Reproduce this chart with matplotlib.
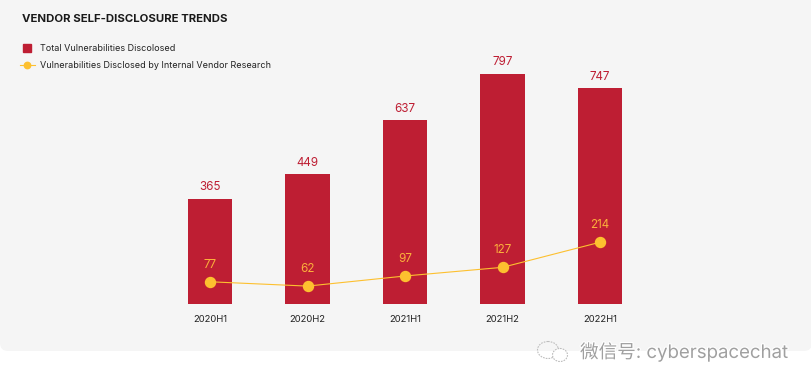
import matplotlib
matplotlib.use("Agg")
import matplotlib.pyplot as plt
import matplotlib.patheffects as pe
from matplotlib.patches import FancyBboxPatch, Ellipse
from matplotlib.lines import Line2D

periods = ["2020H1", "2020H2", "2021H1", "2021H2", "2022H1"]
total = [365, 449, 637, 797, 747]
internal = [77, 62, 97, 127, 214]

W, H = 812, 365
RED = "#BE1E33"
YEL = "#FDC02F"
plt.rcParams["font.family"] = ["Inter", "Noto Sans CJK SC", "DejaVu Sans"]

fig = plt.figure(figsize=(W / 100, H / 100), dpi=100, facecolor="white")

bg = fig.add_axes([0, 0, 1, 1], zorder=0)
bg.set_xlim(0, W); bg.set_ylim(H, 0); bg.axis("off")
bg.add_patch(FancyBboxPatch((0, -30), W, 381, boxstyle="round,pad=0,rounding_size=8",
                            fc="#F5F5F5", ec="none"))

ax = fig.add_axes([161.25 / W, 1 - 304 / H, 487.5 / W, 254 / H], zorder=1)
ax.patch.set_alpha(0)
x = range(len(periods))
ax.bar(x, total, width=0.452, color=RED)
line, = ax.plot(x, internal, color=YEL, lw=0.8, marker="o", ms=7.2)
ax.set_xlim(-0.5, 4.5)
ax.set_ylim(0, 880)
ax.set_xticks(list(x), periods, fontsize=6.8, color="#222222")
ax.tick_params(axis="x", length=0, pad=8)
ax.set_yticks([])
for s in ax.spines.values():
    s.set_visible(False)

for i, v in enumerate(total):
    ax.annotate(str(v), (i, v), xytext=(0, 4), textcoords="offset points", ha="center",
                va="bottom", fontsize=8.4, color=RED)
for i, v in enumerate(internal):
    ax.annotate(str(v), (i, v), xytext=(0, 8), textcoords="offset points", ha="center",
                va="bottom", fontsize=8.4, color="#FBB03B")

fig.text(22 / W, 1 - 19 / H, "VENDOR SELF-DISCLOSURE TRENDS", fontsize=8.2, fontweight="bold",
         color="#1A1A1A", va="center", ha="left")

square = Line2D([], [], ls="none", marker="s", ms=6.4, color=RED,
                label="Total Vulnerabilities Discolosed")
dot = Line2D([], [], color=YEL, lw=0.8, marker="o", ms=4.6,
             label="Vulnerabilities Disclosed by Internal Vendor Research")
fig.legend(handles=[square, dot], loc="upper left", bbox_to_anchor=(20 / W, 1 - 44 / H),
           frameon=False, fontsize=6.5, handlelength=1.65, handletextpad=0.55,
           labelspacing=0.85, borderpad=0, borderaxespad=0, labelcolor="#222222")

# watermark
glow = [pe.withStroke(linewidth=1.6, foreground="white")]
fig.text(580 / W, 1 - 352 / H, "微信号: cyberspacechat", fontsize=13.4, color="#A0A0A0",
         va="center", ha="left", zorder=5, path_effects=glow)
bg.add_patch(Ellipse((548, 350), 21, 17, fc="none", ec="#BDBDBD", lw=0.8, ls=(0, (1.5, 1))))
bg.add_patch(Ellipse((560, 355), 15, 13, fc="white", ec="#BDBDBD", lw=0.8, ls=(0, (1.5, 1))))

fig.savefig("out.png", dpi=100)
